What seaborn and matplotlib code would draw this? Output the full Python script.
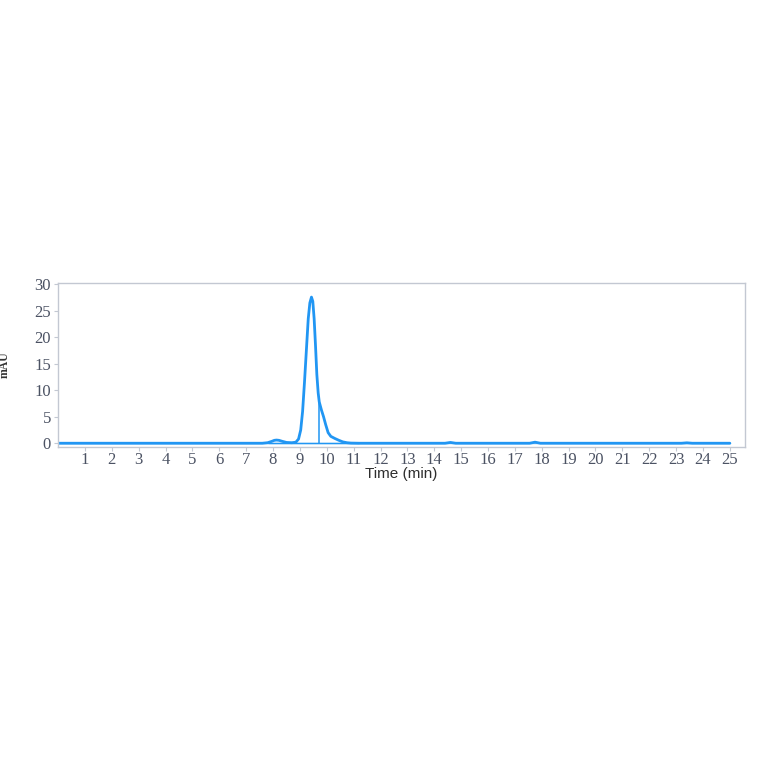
import matplotlib
matplotlib.use("Agg")
import matplotlib.pyplot as plt
import seaborn as sns
import pandas as pd

# chromatogram trace (time in min, signal in mAU)
times = [0.0, 2.0, 4.0, 6.0, 7.0, 7.6, 7.8, 7.95, 8.05, 8.13, 8.22, 8.35, 8.5, 8.7,
         8.85, 8.95, 9.03, 9.1, 9.17, 9.24, 9.31, 9.37, 9.43, 9.48, 9.53, 9.58,
         9.63, 9.68, 9.72, 9.8, 9.88, 9.96, 10.05, 10.15, 10.3, 10.45, 10.6,
         10.75, 10.9, 11.2, 12.0, 14.4, 14.6, 14.8, 16.0, 17.55, 17.75, 17.95,
         20.0, 23.2, 23.4, 23.6, 25.0]
signal = [0.0, 0.0, 0.0, 0.0, 0.0, 0.0, 0.1, 0.35, 0.55, 0.6, 0.55, 0.35, 0.15, 0.1,
          0.2, 0.8, 2.5, 6.0, 11.5, 17.5, 23.5, 26.5, 27.6, 26.8, 23.5, 18.5,
          13.0, 9.5, 7.8, 6.3, 5.0, 3.5, 2.0, 1.3, 0.9, 0.55, 0.25,
          0.1, 0.03, 0.0, 0.0, 0.0, 0.15, 0.0, 0.0, 0.0, 0.2, 0.0,
          0.0, 0.0, 0.08, 0.0, 0.0]

# integration marks
base_start, base_end, base_level = 7.8, 11.2, 0.1
drop_time, drop_top = 9.72, 7.8

x_ticks = list(range(1, 26))
y_ticks = [0, 5, 10, 15, 20, 25, 30]

df = pd.DataFrame({"time": times, "mAU": signal})

sns.set_style("white")
plt.rcParams["font.family"] = ["Liberation Serif", "DejaVu Serif"]

fig = plt.figure(figsize=(7.64, 7.64), dpi=100)
ax = fig.add_axes([0.076, 0.415, 0.899, 0.2145])

trace = "#2196f3"
sns.lineplot(data=df, x="time", y="mAU", ax=ax, color=trace, linewidth=2.0, sort=False)
ax.hlines(base_level, base_start, base_end, color=trace, linewidth=1.0)
ax.vlines(drop_time, base_level, drop_top, color=trace, linewidth=1.1)
ax.axhline(0, color=trace, linewidth=1.0, alpha=0.6, xmax=25.0 / 25.56)

ax.set_xlim(0, 25.56)
ax.set_ylim(-0.7, 30.25)
ax.set_xticks(x_ticks)
ax.set_yticks(y_ticks)

spine_col = "#c3c8d2"
for s in ax.spines.values():
    s.set_color(spine_col)
    s.set_linewidth(1.0)

ax.tick_params(axis="both", which="major", length=3, width=0.8, color=spine_col,
               labelsize=12, labelcolor="#4b5263", pad=2)
ax.tick_params(axis="x", bottom=True, pad=1)
ax.tick_params(axis="y", left=True)

ax.set_xlabel("Time (min)", family=["Liberation Sans", "DejaVu Sans"],
              fontsize=11, color="#2e2e2e", labelpad=-1)
ax.set_ylabel("mAU", family=["Liberation Serif", "DejaVu Serif"],
              fontsize=8.5, color="#333333", fontweight="bold", labelpad=17)

fig.savefig("out.png", dpi=100, facecolor="white")
